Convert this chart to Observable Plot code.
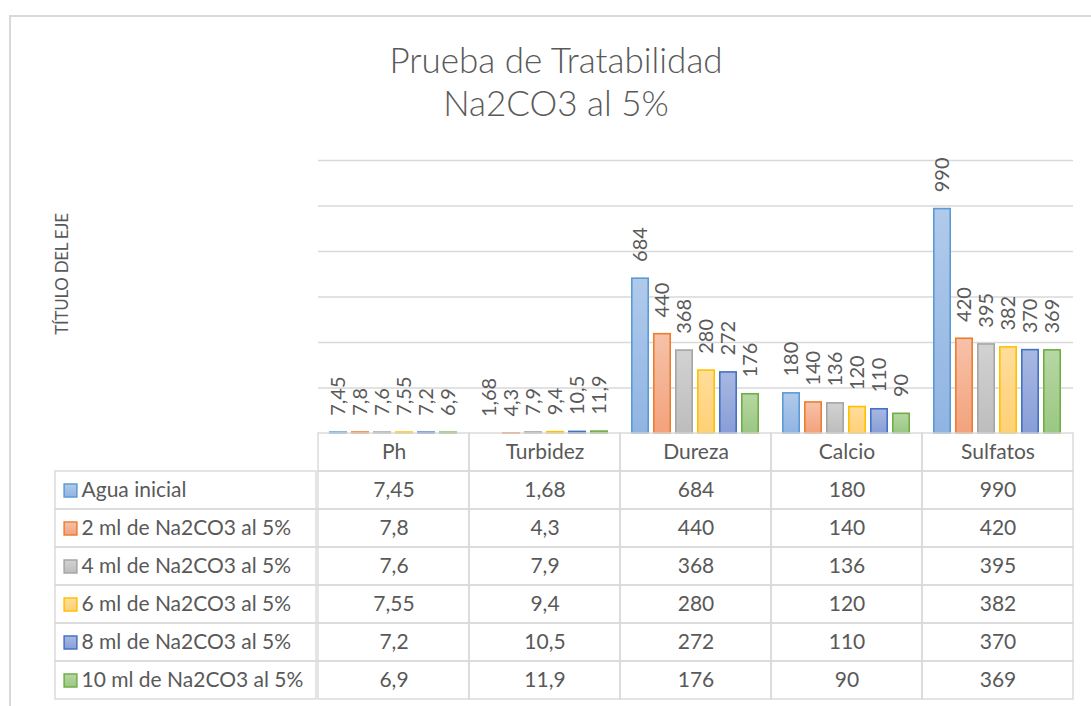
<!DOCTYPE html>
<html>
<head>
<meta charset="utf-8">
<script src="https://cdn.jsdelivr.net/npm/d3@7"></script>
<script src="https://cdn.jsdelivr.net/npm/@observablehq/plot@0.6"></script>
<style>
  html, body { margin: 0; padding: 0; background: #fff; }
  body { width: 1091px; height: 706px; overflow: hidden; position: relative; font-family: Lato, "Open Sans", sans-serif; }
  #frame { position: absolute; left: 9px; top: 15px; width: 1200px; height: 800px; border: 2px solid #d9d9d9; box-sizing: border-box; }
  #title { position: absolute; left: 0; width: 1112px; top: 38px; text-align: center; color: #595959; font-size: 35px; line-height: 43px; font-weight: 300; }
  #ytitle { position: absolute; left: 61px; top: 274px; transform: translate(-50%, -50%) rotate(-90deg); color: #595959; font-size: 17px; white-space: nowrap; font-weight: 400; letter-spacing: -0.3px; }
  #bars { position: absolute; left: 0; top: 0; }
  #table { position: absolute; left: 0; top: 430px; }
  svg { overflow: visible; }
</style>
</head>
<body>
<svg width="0" height="0" style="position:absolute">
  <defs id="grads"></defs>
</svg>
<div id="frame"></div>
<div id="title">Prueba de Tratabilidad<br>Na2CO3 al 5%</div>
<div id="ytitle">TÍTULO DEL EJE</div>
<div id="bars"></div>
<div id="table"></div>
<script>
// ---- data ----
const categories = ["Ph", "Turbidez", "Dureza", "Calcio", "Sulfatos"];
const series = [
  "Agua inicial",
  "2 ml de Na2CO3 al 5%",
  "4 ml de Na2CO3 al 5%",
  "6 ml de Na2CO3 al 5%",
  "8 ml de Na2CO3 al 5%",
  "10 ml de Na2CO3 al 5%"
];
const aguaInicial = [7.45, 1.68, 684, 180, 990];
const ml2 = [7.8, 4.3, 440, 140, 420];
const ml4 = [7.6, 7.9, 368, 136, 395];
const ml6 = [7.55, 9.4, 280, 120, 382];
const ml8 = [7.2, 10.5, 272, 110, 370];
const ml10 = [6.9, 11.9, 176, 90, 369];
const yTicks = [0, 200, 400, 600, 800, 1000, 1200];

// ---- styles ----
const strokes = ["#5B9BD5", "#ED7D31", "#A5A5A5", "#FFC000", "#4472C4", "#70AD47"];
const gradTop = ["#b0caeb", "#f6c2a9", "#d2d2d2", "#ffdd9b", "#a9b8e2", "#b7d7a2"];
const gradBot = ["#90b4e2", "#f3a27c", "#bdbdbd", "#ffd077", "#889ed7", "#9ac783"];
const textColor = "#595959";
const gridColor = "#d9d9d9";
const fontFamily = "Lato, 'Open Sans', sans-serif";

// gradients
const defs = d3.select("#grads");
series.forEach((s, i) => {
  const g = defs.append("linearGradient").attr("id", "g" + i)
    .attr("x1", 0).attr("y1", 0).attr("x2", 0).attr("y2", 1);
  g.append("stop").attr("offset", "0%").attr("stop-color", gradTop[i]);
  g.append("stop").attr("offset", "100%").attr("stop-color", gradBot[i]);
});

const valuesBySeries = [aguaInicial, ml2, ml4, ml6, ml8, ml10];
const rows = [];
series.forEach((s, i) => categories.forEach((c, j) => rows.push({series: s, cat: c, value: valuesBySeries[i][j], si: i})));
const fmt = v => String(v).replace(".", ",");

// ---- bar chart ----
const bars = Plot.plot({
  width: 1091,
  height: 436,
  marginLeft: 316,
  marginRight: 16,
  marginTop: 160,
  marginBottom: 3,
  style: {fontFamily, overflow: "visible", background: "transparent"},
  fx: {domain: categories, padding: 0, axis: null},
  x: {domain: series, paddingInner: 0.174, paddingOuter: 0.392, axis: null},
  y: {domain: [0, 1200], axis: null},
  marks: [
    Plot.ruleY(yTicks.filter(t => t > 0), {stroke: gridColor, strokeWidth: 1.4}),
    ...series.map((s, i) => Plot.barY(rows.filter(r => r.si === i), {
      fx: "cat", x: "series", y: "value",
      fill: `url(#g${i})`, stroke: strokes[i], strokeWidth: 1.6, insetTop: 0.8, insetLeft: 0.8, insetRight: 0.8
    })),
    Plot.text(rows, {
      fx: "cat", x: "series", y: "value", text: d => fmt(d.value),
      rotate: -90, textAnchor: "start", dy: -16, fontSize: 20, fill: textColor
    })
  ]
});
document.getElementById("bars").appendChild(bars);

// ---- data table ----
const headerKey = "__header";
const cells = [];
categories.forEach(c => cells.push({cat: c, row: headerKey, text: c}));
rows.forEach(r => cells.push({cat: r.cat, row: r.series, text: fmt(r.value)}));

const table = Plot.plot({
  width: 1091,
  height: 276,
  marginLeft: 316,
  marginRight: 16,
  marginTop: 3,
  marginBottom: 7,
  style: {fontFamily, overflow: "visible", background: "transparent"},
  x: {domain: categories, padding: 0, axis: null},
  y: {domain: [headerKey, ...series], padding: 0, axis: null},
  marks: [
    Plot.cell(cells, {x: "cat", y: "row", fill: "none", stroke: gridColor, strokeWidth: 1.4}),
    Plot.cell(series, {y: d => d, fill: "none", stroke: gridColor, strokeWidth: 1.4, insetLeft: -261, insetRight: 759}),
    Plot.text(cells, {x: "cat", y: "row", text: "text", fontSize: 21, fill: textColor}),
    ...series.map((s, i) => Plot.dot([s], {
      y: d => d, frameAnchor: "left", dx: -246, symbol: "square", r: 7.2,
      fill: `url(#g${i})`, stroke: strokes[i], strokeWidth: 1.5
    })),
    Plot.text(series, {y: d => d, text: d => d, frameAnchor: "left", textAnchor: "start", dx: -235, fontSize: 21, fill: textColor})
  ]
});
document.getElementById("table").appendChild(table);
</script>
</body>
</html>
